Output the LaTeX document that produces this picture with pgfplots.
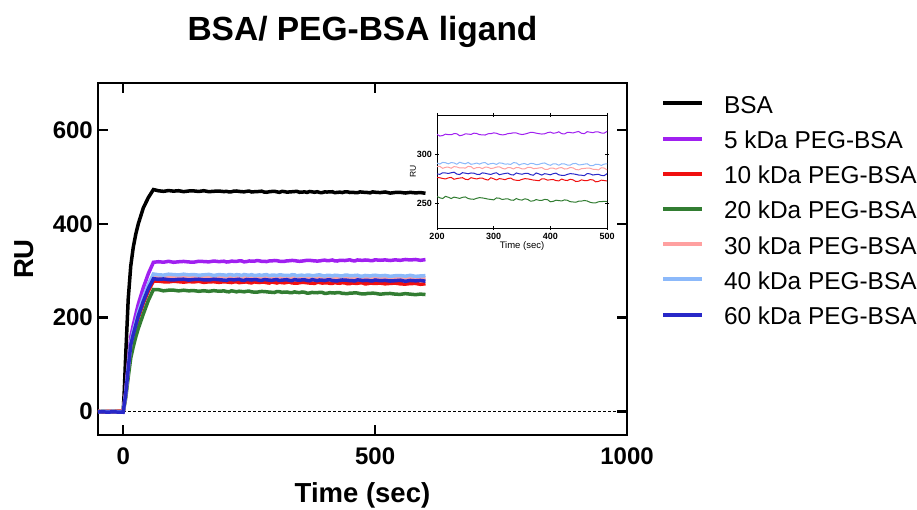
\documentclass[border=0pt]{standalone}
\usepackage{fontspec}
\setmainfont{Liberation Sans}
\usepackage{pgfplots}
\usepackage{pgfplotstable}
\pgfplotsset{compat=1.18}

\definecolor{cpurple}{RGB}{160,32,240}
\definecolor{cred}{RGB}{240,16,16}
\definecolor{cgreen}{RGB}{50,125,50}
\definecolor{cpink}{RGB}{255,160,160}
\definecolor{clblue}{RGB}{140,185,250}
\definecolor{cblue}{RGB}{40,40,200}

\pgfplotstableread{
t bsa p5 p10 p20 p30 p40 p60
-50 0.3 -0.6 0.5 -0.8 0.2 -0.4 -1.0
-40 -0.5 0.4 -0.7 0.6 -0.3 0.5 -0.8
-30 0.6 -0.3 0.2 -0.5 0.7 -0.6 -1.2
-20 -0.2 0.7 -0.6 0.3 -0.5 0.2 -0.7
-10 0.4 -0.5 0.8 -0.2 0.3 -0.7 -1.1
0 0.0 -1.5 0.5 -0.8 0.0 -0.5 -1.0
2 40 16 14 10 14 15 14
5 120 41 36 29 37 38 37
10 240 102 89 73 92 94 91
15 310 159 139 114 144 147 142
20 350 184 161 138 167 170 164
25 378 207 181 159 187 190 184
30 400 229 200 177 207 211 204
40 434 264 231 208 239 243 235
50 456 294 257 237 266 271 262
60 473 318 278 260 288 293 283
70 470.4 319.2 277.9 259.7 286.7 291.4 281.8
80 469.2 318.2 276.5 257.2 287.4 290.7 282.5
90 470.8 320.0 276.2 258.5 288.4 292.6 280.9
100 469.6 318.0 277.7 258.6 286.1 291.8 280.4
110 470.5 319.1 276.7 257.1 287.9 291.0 281.7
120 468.5 319.8 275.7 258.5 287.1 292.6 281.9
130 469.9 318.7 276.9 257.2 288.0 291.2 280.2
140 470.1 318.2 276.1 257.7 286.4 291.9 281.3
150 468.9 320.2 277.5 256.2 287.3 290.5 281.9
160 470.5 319.6 275.1 257.4 288.1 291.3 280.6
170 468.4 318.9 276.4 256.1 286.4 292.2 280.3
180 469.3 320.7 276.6 257.6 286.0 290.0 281.9
190 469.8 319.4 275.2 256.3 287.2 291.7 280.9
200 468.6 320.3 276.6 257.1 287.5 291.0 280.0
205 469.2 318.6 276.1 255.7 287.7 290.1 279.6
210 467.9 319.1 275.4 255.0 285.7 291.8 281.2
215 468.3 320.5 274.9 257.2 286.8 291.4 281.0
220 469.8 320.0 276.0 256.3 286.9 290.3 280.5
225 469.9 319.9 276.5 255.0 285.8 291.6 281.2
230 469.0 321.0 274.6 256.4 287.5 291.2 281.8
235 468.5 320.9 275.3 255.8 287.1 289.9 279.9
240 468.1 318.9 275.8 255.1 286.1 291.9 279.4
245 469.2 319.5 276.2 256.2 286.3 291.0 281.3
250 469.7 320.8 274.6 256.6 285.9 290.3 280.8
255 467.8 320.6 274.2 255.0 287.7 291.7 280.2
260 468.3 320.2 276.2 254.4 287.4 289.8 281.0
265 468.5 321.5 275.5 254.2 285.3 290.3 280.8
270 469.0 321.2 274.9 255.2 286.5 291.1 279.7
275 469.5 320.0 275.7 255.9 286.6 290.0 279.4
280 467.6 319.8 275.8 255.6 285.5 291.3 281.1
285 467.2 319.6 274.5 255.1 286.9 291.6 280.7
290 468.3 320.9 273.8 254.4 286.8 289.6 280.0
295 468.9 321.0 276.1 254.1 285.5 290.6 279.5
300 469.3 321.8 275.1 253.6 286.0 290.7 280.6
305 468.1 321.4 273.9 255.6 287.0 289.7 281.2
310 467.0 320.3 275.3 255.3 287.3 291.3 279.2
315 469.0 319.8 274.8 254.0 285.8 290.9 279.9
320 468.7 320.0 274.2 254.5 285.0 290.0 280.5
325 467.4 321.1 275.3 254.7 286.5 290.2 280.9
330 467.9 321.3 275.8 253.5 286.3 289.7 279.3
335 468.3 321.9 274.1 253.2 285.1 291.5 278.9
340 468.8 321.7 273.6 255.0 286.6 291.3 281.0
345 469.0 320.7 273.4 253.8 286.3 289.1 280.2
350 467.2 320.1 274.5 253.4 285.2 290.3 279.7
355 467.4 320.6 275.2 254.7 285.2 290.5 280.5
360 468.1 321.4 275.0 254.1 286.7 289.4 280.7
365 466.9 322.3 274.4 252.3 286.8 290.7 279.3
370 468.8 322.2 273.8 252.6 285.5 290.6 278.7
375 468.1 321.5 273.5 253.9 285.6 289.4 281.0
380 467.2 321.0 273.1 253.2 286.1 289.8 280.0
385 468.3 320.6 275.1 253.1 286.5 290.8 278.8
390 466.7 320.9 274.9 254.1 284.8 291.2 280.3
395 466.6 322.0 273.7 253.8 284.6 289.7 279.8
400 467.9 322.6 274.1 251.7 286.0 288.8 279.1
405 467.7 321.4 274.4 252.1 285.9 290.3 280.3
410 468.1 321.8 273.2 253.3 284.9 290.2 280.8
415 468.3 322.9 273.0 252.9 286.1 288.9 279.1
420 466.4 321.0 274.8 252.5 286.5 290.4 278.6
425 466.9 320.7 273.7 253.6 285.0 290.2 278.5
430 467.5 322.3 273.3 253.2 285.3 289.1 279.6
435 466.6 322.2 274.6 251.8 286.6 289.0 280.3
440 468.1 321.7 274.0 251.5 286.2 290.5 280.1
445 468.2 322.6 272.3 251.2 284.5 290.7 279.6
450 466.7 323.2 272.6 252.3 284.2 289.3 278.9
455 467.2 321.4 274.0 252.4 285.4 289.4 278.7
460 466.5 321.0 273.3 253.0 285.6 290.0 278.3
465 466.2 323.0 273.2 252.5 286.0 290.4 280.4
470 468.0 322.5 274.2 251.2 285.8 288.6 280.1
475 467.4 322.0 274.0 250.6 284.8 288.4 278.9
480 467.0 322.9 272.0 250.6 284.7 289.9 279.4
485 466.7 322.7 272.4 251.7 284.1 289.7 279.6
490 466.0 321.7 273.7 251.8 286.3 288.7 278.5
495 468.0 321.5 273.3 252.2 286.0 290.0 278.3
500 467.3 323.3 272.9 251.9 284.2 290.4 280.2
510 466.5 322.3 273.7 250.0 285.1 289.1 278.7
520 467.8 323.1 272.1 251.1 285.6 290.0 279.4
530 465.4 321.8 273.0 251.6 284.5 288.1 278.1
540 466.8 323.2 273.7 250.1 283.8 289.4 278.8
550 467.0 322.2 272.0 249.7 285.7 289.7 279.8
560 465.6 324.0 271.5 251.2 284.9 288.5 277.5
570 467.0 322.9 272.7 250.1 284.1 290.2 279.3
580 465.9 324.0 272.9 249.0 285.7 288.0 278.5
590 466.5 322.2 271.1 250.2 284.2 288.9 279.3
600 465.1 323.7 272.2 249.3 285.0 289.5 277.8
}\data

\begin{document}
\begin{tikzpicture}
\useasboundingbox (-98pt,-74pt) rectangle (819pt,435pt);
\begin{axis}[
  name=main, at={(0pt,0pt)}, anchor=south west,
  scale only axis, width=529pt, height=352pt,
  xmin=-50, xmax=1000, ymin=-50, ymax=700,
  xtick={0,500,1000}, ytick={0,200,400,600},
  tick align=inside, major tick length=10pt,
  axis line style={line width=2.5pt},
  every tick/.style={black, line width=2.5pt},
  /pgf/number format/assume math mode=true,
  /pgf/number format/1000 sep={},
  ticklabel style={font=\fontsize{24}{24}\selectfont\bfseries, inner sep=0pt},
  xticklabel style={anchor=north, yshift=-13pt},
  yticklabel style={anchor=east, xshift=-5pt},
  xlabel={Time (sec)}, ylabel={RU},
  label style={font=\fontsize{27.5}{27.5}\selectfont\bfseries},
  xlabel style={at={(0.5,0)}, anchor=base, yshift=-67pt},
  ylabel style={at={(0,0.5)}, anchor=center, yshift=74pt},
  title={BSA/ PEG-BSA ligand},
  title style={font=\fontsize{33.5}{33.5}\selectfont\bfseries, at={(0.5,1)}, anchor=base, yshift=37pt},
  legend style={at={(1,1)}, anchor=north west, xshift=34pt, yshift=-10.3pt,
    draw=none, fill=none, inner sep=0pt, outer sep=0pt, row sep=15.2pt,
    font=\fontsize{24.4}{24.4}\selectfont,
    nodes={inner sep=0pt, text height=20pt, text depth=0pt},
    /tikz/every odd column/.append style={column sep=20pt}},
  legend cell align=left,
  legend image code/.code={\draw[#1, line width=4pt] (0pt,0pt) -- (39pt,0pt);},
]
\addplot[black, line width=1.2pt, dash pattern=on 2.5pt off 2.5pt, forget plot] coordinates {(0,0) (1000,0)};
\addplot[black, line width=3.5pt] table[x=t, y=bsa] {\data};
\addplot[cpurple, line width=3.5pt] table[x=t, y=p5] {\data};
\addplot[cred, line width=3.5pt] table[x=t, y=p10] {\data};
\addplot[cgreen, line width=3.5pt] table[x=t, y=p20] {\data};
\addplot[cpink, line width=3.5pt] table[x=t, y=p30] {\data};
\addplot[clblue, line width=3.5pt] table[x=t, y=p40] {\data};
\addplot[cblue, line width=3.5pt] table[x=t, y=p60] {\data};
\legend{BSA, 5 kDa PEG-BSA, 10 kDa PEG-BSA, 20 kDa PEG-BSA, 30 kDa PEG-BSA, 40 kDa PEG-BSA, 60 kDa PEG-BSA}
\end{axis}
\begin{axis}[
  name=inset, at={(339pt,207pt)}, anchor=south west,
  scale only axis, width=170pt, height=113pt,
  xmin=200, xmax=500, ymin=225, ymax=340,
  xtick={200,300,400,500}, ytick={250,300},
  tick align=center, major tick length=4pt,
  axis line style={line width=0.9pt},
  every tick/.style={black, line width=0.9pt},
  /pgf/number format/assume math mode=true,
  ticklabel style={font=\fontsize{9}{9}\selectfont\bfseries, inner sep=0pt},
  xticklabel style={anchor=north, yshift=-3pt},
  yticklabel style={anchor=east, xshift=-3pt},
  xlabel={Time (sec)}, ylabel={RU},
  xlabel style={font=\fontsize{9.5}{9.5}\selectfont, at={(0.5,0)}, anchor=center, yshift=-18pt},
  ylabel style={font=\fontsize{8.5}{8.5}\selectfont, at={(0,0.5)}, anchor=center, yshift=24pt},
]
\addplot[cpurple, line width=1pt] table[x=t, y=p5] {\data};
\addplot[cred, line width=1pt] table[x=t, y=p10] {\data};
\addplot[cgreen, line width=1pt] table[x=t, y=p20] {\data};
\addplot[cpink, line width=1pt] table[x=t, y=p30] {\data};
\addplot[clblue, line width=1pt] table[x=t, y=p40] {\data};
\addplot[cblue, line width=1pt] table[x=t, y=p60] {\data};
\end{axis}
\end{tikzpicture}
\end{document}
